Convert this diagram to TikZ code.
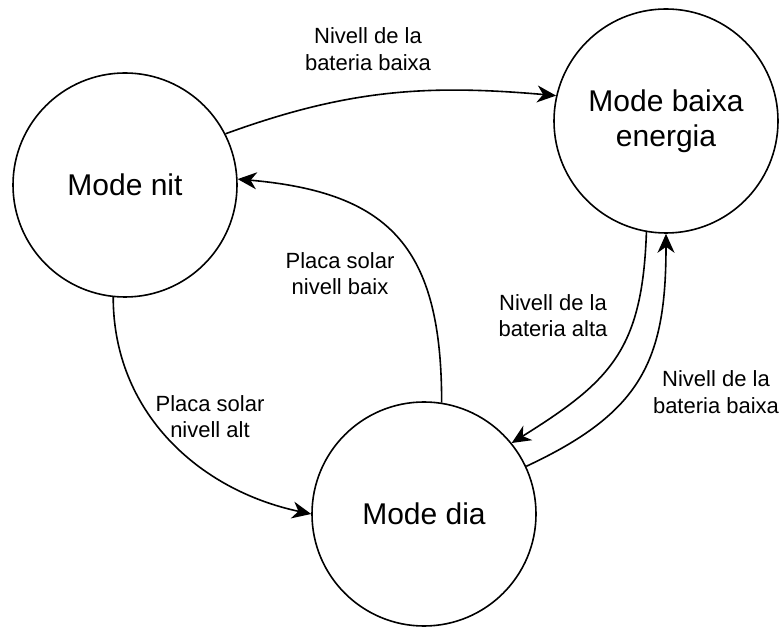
\documentclass[tikz,border=0pt]{standalone}
\usepackage{fontspec}
\setmainfont{Liberation Sans}
\usetikzlibrary{arrows.meta}
\begin{document}
\begin{tikzpicture}[x=1pt,y=1pt,
  state/.style={circle,draw,line width=1.6pt,minimum size=224pt,inner sep=0pt,align=center,font=\fontsize{30}{35}\selectfont},
  lbl/.style={inner sep=0pt,align=center,font=\fontsize{22}{26.5}\selectfont},
  conn/.style={line width=1.6pt,-{Stealth[length=19pt,width=17pt,inset=6pt]}}]
\useasboundingbox (0,0) rectangle (781,626);
\node[state] (nit) at (125,441) {Mode nit};
\node[state] (baixa) at (666,505) {Mode baixa\\energia};
\node[state] (dia) at (424,112) {Mode dia};
\draw[conn] (nit.27) to[out=20,in=175] (baixa.167);
\draw[conn] (dia.81) to[out=90,in=-5,looseness=1.3] (nit.3);
\draw[conn] (nit.264) to[out=270,in=168] (dia.180);
\draw[conn] (baixa.260) to[out=268,in=32,looseness=1.2] (dia.39);
\draw[conn] (dia.25) to[out=25,in=270,looseness=1.2] (baixa.270);
\node[lbl] (l1) at (368,577) {Nivell de la\\bateria baixa};
\node[lbl] (l2) at (340,352.5) {Placa solar\\nivell baix};
\node[lbl] (l3) at (210,209.5) {Placa solar\\nivell alt};
\node[lbl] (l4) at (553,310.5) {Nivell de la\\bateria alta};
\node[lbl] (l5) at (716,234) {Nivell de la\\bateria baixa};
\end{tikzpicture}
\end{document}
